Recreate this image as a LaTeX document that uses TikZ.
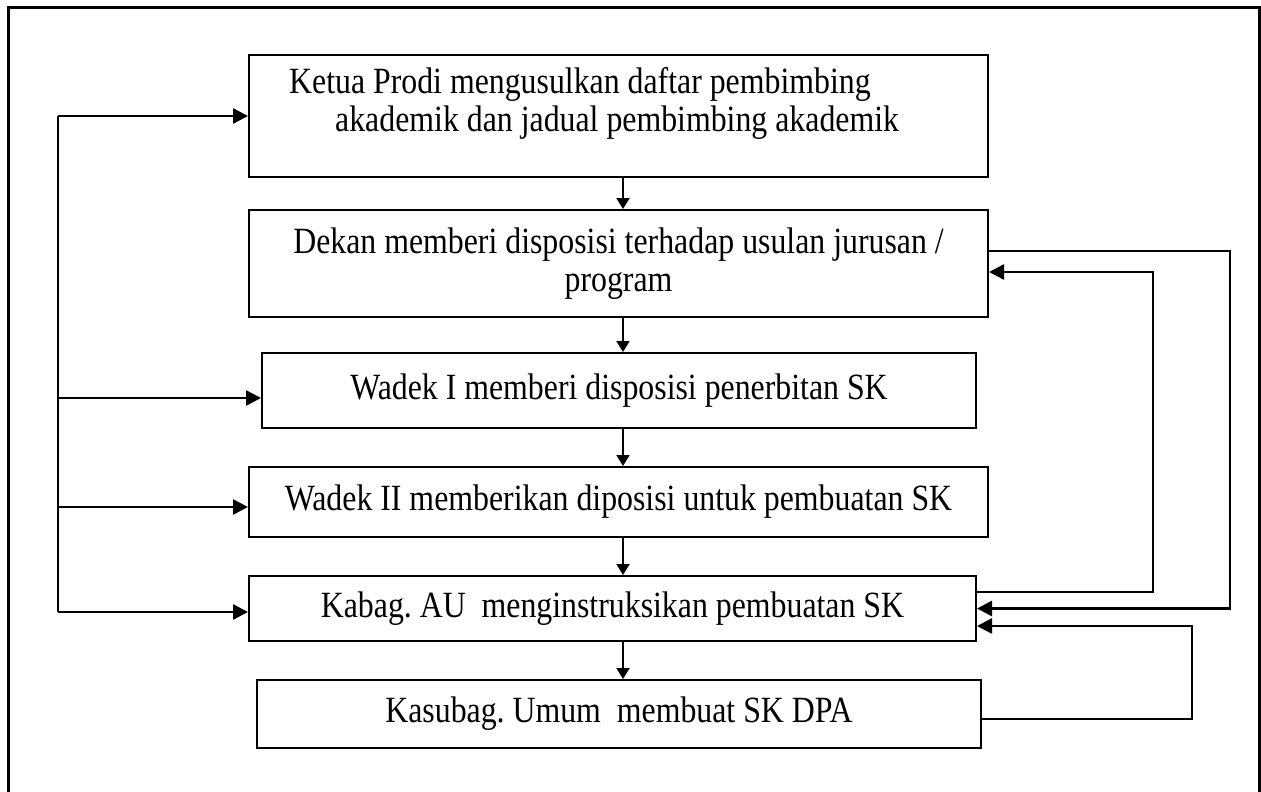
\documentclass[tikz,border=0pt]{standalone}
\usepackage{fontspec}
\setmainfont[FakeStretch=0.86]{Liberation Serif}
\usetikzlibrary{arrows.meta}
\frenchspacing
\tikzset{
  flowbox/.style={draw,line width=2pt,inner sep=0pt,align=center,font=\fontsize{37}{38}\selectfont},
  flowarr/.style={line width=2.6pt,-{Triangle[length=15pt,width=15pt]}},
  downarr/.style={line width=2pt,-{Triangle[length=11pt,width=13pt]}},
}
\begin{document}
\begin{tikzpicture}[x=1pt,y=-1pt]
\useasboundingbox (0,0) rectangle (1261,792);
\draw[line width=3pt] (8,800) -- (8,8) -- (1259,8) -- (1259,800);
\node[flowbox,minimum width=739pt,minimum height=122pt] (ketua) at (618.5,116) {};
\node[font=\fontsize{37}{38}\selectfont,align=left,anchor=west,inner sep=0pt] (ketuatxt) at (289,103) {Ketua Prodi mengusulkan daftar pembimbing\\\hspace*{46pt}akademik dan jadual pembimbing akademik};
\node[flowbox,minimum width=739pt,minimum height=107pt] (dekan) at (618.5,263.5) {Dekan memberi disposisi terhadap usulan jurusan /\\program};
\node[flowbox,minimum width=714pt,minimum height=75pt] (wadeki) at (619,390.5) {Wadek I memberi disposisi penerbitan SK};
\node[flowbox,minimum width=739pt,minimum height=70pt] (wadekii) at (618.5,502) {Wadek II memberikan diposisi untuk pembuatan SK};
\node[flowbox,minimum width=727pt,minimum height=65pt] (kabag) at (612.5,608.5) {Kabag. AU\ \ menginstruksikan pembuatan SK};
\node[flowbox,minimum width=724pt,minimum height=68pt] (kasubag) at (619,714) {\raisebox{-8pt}{Kasubag. Umum\ \ membuat SK DPA}};
\coordinate (spine) at (623,0);
\foreach \a/\b in {ketua/dekan,dekan/wadeki,wadeki/wadekii,wadekii/kabag,kabag/kasubag}
  \draw[downarr] (\a.south -| spine) -- (\b.north -| spine);
\coordinate (lbus) at (58,0);
\coordinate (wiin) at ([yshift=-7.5pt]wadeki.west);
\coordinate (wiiin) at ([yshift=-5pt]wadekii.west);
\coordinate (kbleft) at ([yshift=-3.5pt]kabag.west);
\draw[line width=2.6pt] (lbus |- ketua.west) -- (lbus |- kbleft);
\draw[flowarr] (lbus |- ketua.west) -- (ketua.west);
\draw[flowarr] (lbus |- wiin) -- (wiin);
\draw[flowarr] (lbus |- wiiin) -- (wiiin);
\draw[flowarr] (lbus |- kbleft) -- (kbleft);
\coordinate (dkout) at ([yshift=12.5pt]dekan.east);
\coordinate (dkin) at ([yshift=-8.5pt]dekan.east);
\coordinate (kbout) at ([yshift=16.5pt]kabag.east);
\coordinate (kbin) at (kabag.east);
\coordinate (kbinb) at ([yshift=-17.5pt]kabag.east);
\coordinate (ksout) at ([yshift=-5pt]kasubag.east);
\coordinate (router) at (1230,0);
\coordinate (rinner) at (1153,0);
\coordinate (rlow) at (1192,0);
\draw[flowarr] (dkout) -- (dkout -| router) -- (kbin -| router) -- (kbin);
\draw[flowarr] (kbout) -- (kbout -| rinner) -- (dkin -| rinner) -- (dkin);
\draw[flowarr] (ksout) -- (ksout -| rlow) -- (kbinb -| rlow) -- (kbinb);
\end{tikzpicture}
\end{document}
